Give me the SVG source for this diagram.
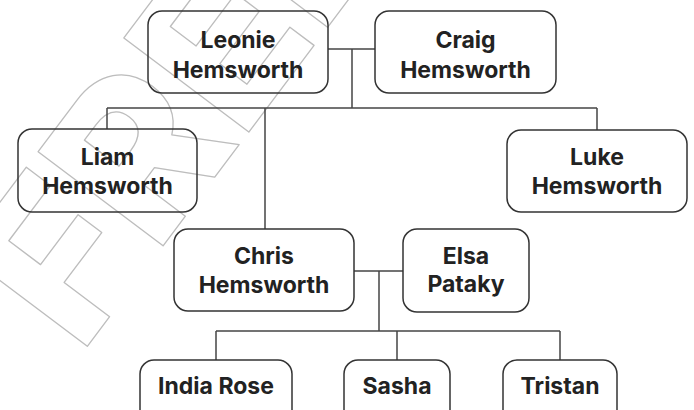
<svg xmlns="http://www.w3.org/2000/svg" width="694" height="410" viewBox="0 0 694 410">
<style>
.box{fill:none;stroke:#333;stroke-width:1.5}
.lbl{font-family:Inter,"Noto Sans","Liberation Sans",sans-serif;font-weight:700;font-size:23px;fill:#222;text-anchor:middle}
.wm{font-family:Inter,"Noto Sans","Liberation Sans",sans-serif;font-weight:800;font-size:215px;fill:none;stroke:#bdbdbd;stroke-width:1.3;stroke-linejoin:round}
#connectors line{stroke:#444;stroke-width:1.5}
</style>
<rect width="694" height="410" fill="#fff"/>
<text class="wm" transform="translate(80,356) rotate(-53)">FREE</text>
<g id="connectors">
<line x1="328" y1="49" x2="375" y2="49"/>
<line x1="352" y1="49" x2="352" y2="108"/>
<line x1="107" y1="108" x2="597" y2="108"/>
<line x1="107" y1="108" x2="107" y2="129"/>
<line x1="265" y1="108" x2="265" y2="229"/>
<line x1="597" y1="108" x2="597" y2="130"/>
<line x1="354" y1="271" x2="403" y2="271"/>
<line x1="379" y1="271" x2="379" y2="331"/>
<line x1="216" y1="331" x2="560" y2="331"/>
<line x1="216" y1="331" x2="216" y2="360"/>
<line x1="397" y1="331" x2="397" y2="360"/>
<line x1="560" y1="331" x2="560" y2="360"/>
</g>
<g id="leonie"><rect class="box" x="148" y="11" width="180" height="82" rx="14"/><text class="lbl" x="238" y="48">Leonie</text><text class="lbl" x="238" y="78">Hemsworth</text></g>
<g id="craig"><rect class="box" x="375" y="11" width="181" height="82" rx="14"/><text class="lbl" x="465.5" y="48">Craig</text><text class="lbl" x="465.5" y="78">Hemsworth</text></g>
<g id="liam"><rect class="box" x="18" y="129" width="179" height="83" rx="14"/><text class="lbl" x="107.5" y="165">Liam</text><text class="lbl" x="107.5" y="194">Hemsworth</text></g>
<g id="luke"><rect class="box" x="507" y="130" width="180" height="82" rx="14"/><text class="lbl" x="597" y="165">Luke</text><text class="lbl" x="597" y="194">Hemsworth</text></g>
<g id="chris"><rect class="box" x="174" y="229" width="180" height="82" rx="14"/><text class="lbl" x="264" y="264">Chris</text><text class="lbl" x="264" y="293">Hemsworth</text></g>
<g id="elsa"><rect class="box" x="403" y="229" width="126" height="83" rx="14"/><text class="lbl" x="466" y="264">Elsa</text><text class="lbl" x="466" y="292">Pataky</text></g>
<g id="india"><rect class="box" x="140" y="360" width="152" height="70" rx="14"/><text class="lbl" x="216" y="394">India Rose</text></g>
<g id="sasha"><rect class="box" x="344" y="360" width="106" height="70" rx="14"/><text class="lbl" x="397" y="394">Sasha</text></g>
<g id="tristan"><rect class="box" x="503" y="360" width="114" height="70" rx="14"/><text class="lbl" x="560" y="394">Tristan</text></g>
</svg>
